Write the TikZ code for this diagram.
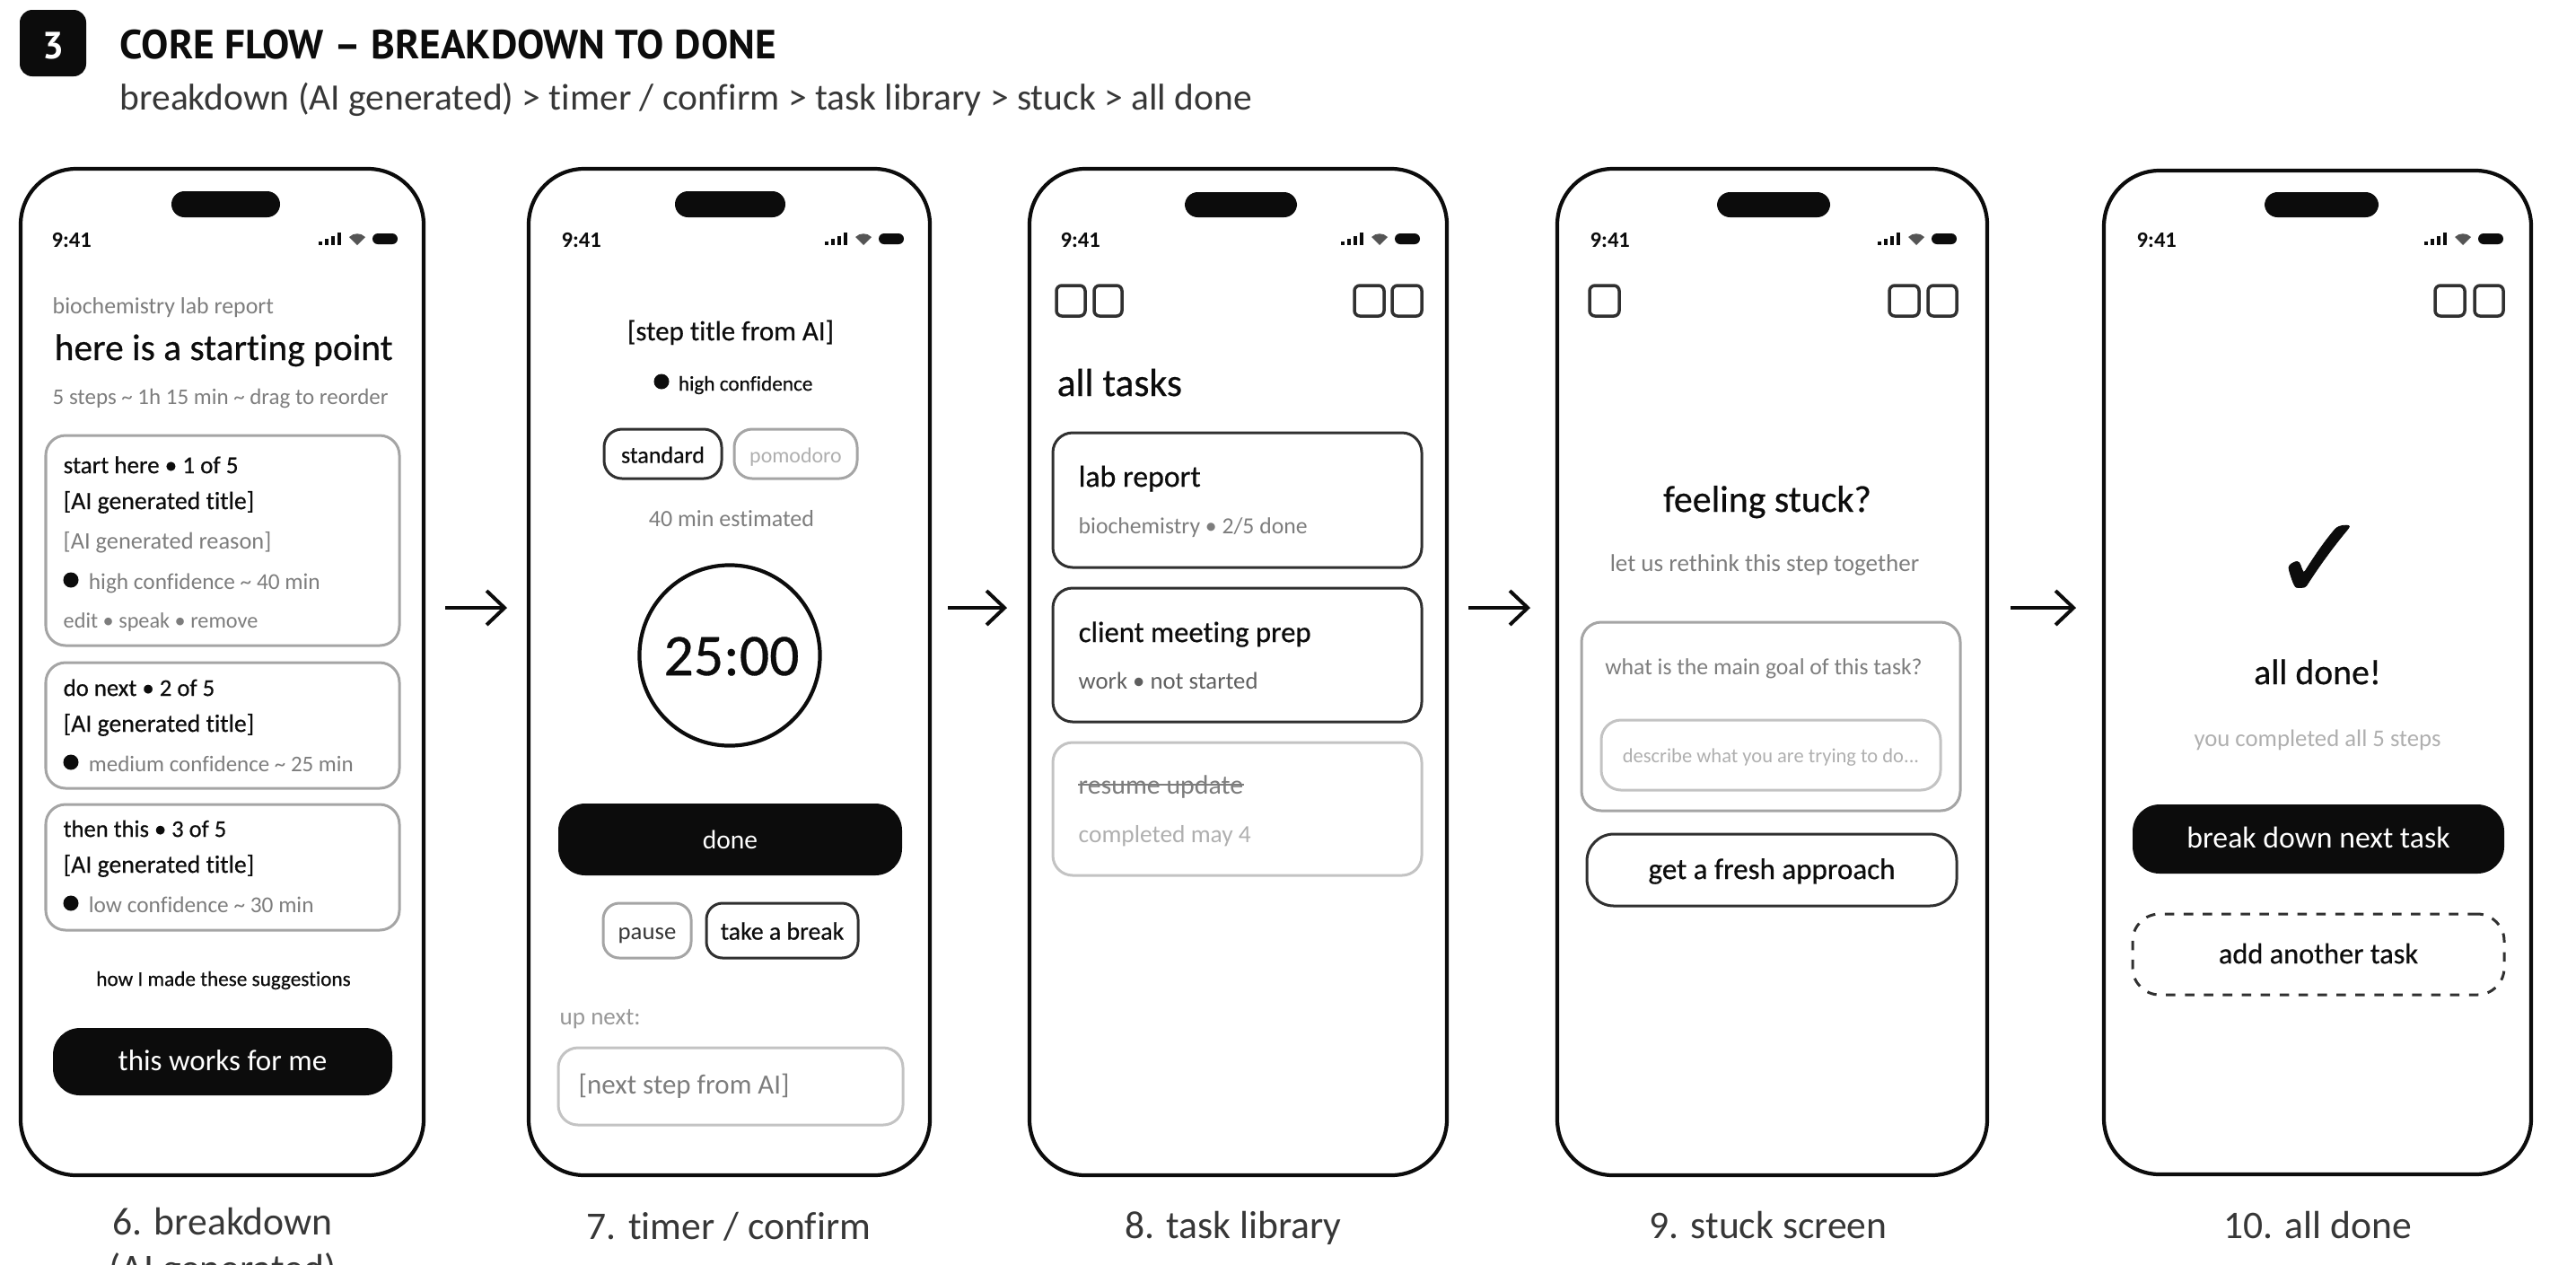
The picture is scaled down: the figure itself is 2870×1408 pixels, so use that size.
\documentclass[tikz,border=0pt]{standalone}
\usepackage{fontspec}
\setmainfont{Carlito}[Ligatures=NoCommon]
\newfontfamily\headfont{PT Sans}
\newfontfamily\medfont{Carlito}[Ligatures=NoCommon,FakeBold=.5]
\newfontfamily\checkfont{DejaVu Sans}[FakeBold=.6]
\usetikzlibrary{positioning,arrows.meta}
\definecolor{InkBlack}{RGB}{12,12,12}
\definecolor{LabelGrey}{RGB}{55,55,55}
\definecolor{SoftGrey}{RGB}{125,125,125}
\definecolor{FaintGrey}{RGB}{175,175,175}
\definecolor{EdgeGrey}{RGB}{165,165,165}
\definecolor{PaleEdge}{RGB}{195,195,195}
\newcommand{\apx}{\textasciitilde}
\tikzset{
  screen style/.style={
    x=.01cm,y=-.01cm,
  },
  span/.style n args={4}{
    at={({(#1+#3)/2},{(#2+#4)/2})},
    minimum width={(#3-#1)*.01cm},
    minimum height={(#4-#2)*.01cm},
    inner sep=0pt,
  },
  phone/.style={
    draw=InkBlack,
    line width=.042cm,
    rounded corners=.62cm,
  },
  notch/.style={
    fill=InkBlack,
    rounded corners=.145cm,
  },
  card/.style={
    draw=EdgeGrey,
    line width=.03cm,
    rounded corners=.22cm,
  },
  dark card/.style={
    card,
    draw=InkBlack!85,
  },
  pale card/.style={
    card,
    draw=PaleEdge,
  },
  button/.style={
    fill=InkBlack,
    text=white,
    rounded corners=.3cm,
  },
  icon box/.style={
    draw=InkBlack!85,
    line width=.035cm,
    rounded corners=.06cm,
  },
  size/.style={
    font=\fontsize{#1pt}{#1pt}\selectfont,
    text height=1.5ex,
    text depth=.3ex,
  },
  ink/.style={
    font=\medfont\fontsize{#1pt}{#1pt}\selectfont,
    text height=1.5ex,
    text depth=.3ex,
    inner sep=0pt,
    text=InkBlack,
  },
  soft/.style={
    size=#1,
    inner sep=0pt,
    text=SoftGrey,
  },
  faint/.style={
    size=#1,
    inner sep=0pt,
    text=FaintGrey,
  },
  caption/.style={
    size=12.4,
    inner sep=0pt,
    text=LabelGrey,
  },
  clock/.style={
    ink=7,
    anchor=west,
    font=\fontsize{7}{7}\selectfont\bfseries,
  },
  conf dot/.style={
    circle,
    fill=InkBlack,
    inner sep=0pt,
    minimum size=.17cm,
  },
  flow/.style={
    draw=InkBlack,
    line width=.04cm,
    -{Straight Barb[length=.2cm,width=.38cm,line width=.04cm]},
  },
  status bar/.pic={
    \fill[InkBlack] (-88,7) rectangle (-84,3);
    \fill[InkBlack] (-81,7) rectangle (-77,0);
    \fill[InkBlack] (-74,7) rectangle (-70,-3);
    \fill[InkBlack] (-67,7) rectangle (-63,-7);
    \fill[InkBlack!70] (-45,7) -- (-54,-2) .. controls (-49,-7) and (-41,-7) .. (-36,-2) -- cycle;
    \fill[InkBlack,rounded corners=.06cm] (-28,-6) rectangle (0,6);
  },
}
\begin{document}
\begin{tikzpicture}[screen style]
  \useasboundingbox (0,0) rectangle (2870,1408);
  \begin{scope}
    \node[notch, fill=InkBlack, rounded corners=.14cm, span={22}{11}{96}{85}, text=white, size=12] (badge) {\raisebox{-2pt}{\headfont\bfseries 3}};
    \node[ink=12.9, anchor=west] (title) at (133,55) {\headfont\bfseries CORE FLOW – BREAKDOWN TO DONE};
    \node[caption, size=11.8, anchor=west] (subtitle) at (133,112) {breakdown (AI generated) > timer / confirm > task library > stuck > all done};
  \end{scope}
  \begin{scope}
    \node[phone, span={23}{188}{472}{1309}] (p6) {};
    \node[notch, span={191}{213}{312}{242}] (p6n) {};
    \node[clock] (p6t) at (57,265) {9:41};
    \pic at (443,266) {status bar};
    \node[soft=7.35, anchor=west] (p6a) at (58,339) {biochemistry lab report};
    \node[ink=11.8, anchor=west] (p6b) at (60,391) {here is a starting point};
    \node[soft=7.1, anchor=west] (p6c) at (58,440) {5 steps \apx{} 1h 15 min \apx{} drag to reorder};
    \node[card, span={51}{485}{445}{719}] (c1) {};
    \node[ink=7.7, anchor=west] (c1a) at (70,517) {start here • 1 of 5};
    \node[ink=7.9, anchor=west] (c1b) at (70,557) {[AI generated title]};
    \node[soft=7.5, anchor=west] (c1c) at (70,601) {[AI generated reason]};
    \node[conf dot] (c1d) at (79,646) {};
    \node[soft=7.2, right=.1cm of c1d] (c1e) {high confidence \apx{} 40 min};
    \node[soft=6.9, anchor=west] (c1f) at (70,689) {edit • speak • remove};
    \node[card, span={51}{738}{445}{878}] (c2) {};
    \node[ink=7.6, anchor=west] (c2a) at (70,765) {do next • 2 of 5};
    \node[ink=7.9, anchor=west] (c2b) at (70,805) {[AI generated title]};
    \node[conf dot] (c2d) at (79,849) {};
    \node[soft=7.1, right=.1cm of c2d] (c2e) {medium confidence \apx{} 25 min};
    \node[card, span={51}{896}{445}{1036}] (c3) {};
    \node[ink=7.55, anchor=west] (c3a) at (70,922) {then this • 3 of 5};
    \node[ink=7.9, anchor=west] (c3b) at (70,962) {[AI generated title]};
    \node[conf dot] (c3d) at (79,1006) {};
    \node[soft=7.2, right=.1cm of c3d] (c3e) {low confidence \apx{} 30 min};
    \node[ink=6.6] (p6h) at (249,1088) {how I made these suggestions};
    \node[button, span={59}{1145}{437}{1220}, size=9.4] (p6o) {this works for me};
    \node[caption, anchor=north, align=center, text height=, text depth=] (p6l) at (248,1344) {6. breakdown\\[2.6pt](AI generated)};
  \end{scope}
  \begin{scope}
    \node[phone, span={589}{188}{1036}{1309}] (p7) {};
    \node[notch, span={752}{213}{875}{242}] (p7n) {};
    \node[clock] (p7t) at (625,265) {9:41};
    \pic at (1007,266) {status bar};
    \node[ink=8.8] (p7a) at (814,369) {[step title from AI]};
    \node[conf dot] (p7d) at (737,425) {};
    \node[ink=6.6, right=.09cm of p7d] (p7e) {high confidence};
    \node[dark card, rounded corners=.2cm, span={673}{478}{804}{533}, ink=7.4] (p7s) {standard};
    \node[card, rounded corners=.2cm, span={818}{478}{955}{533}, faint=6.8] (p7m) {pomodoro};
    \node[soft=7.4] (p7g) at (815,576) {40 min estimated};
    \node[draw=InkBlack, line width=.042cm, circle, inner sep=0pt, minimum size=2.01cm] (p7c) at (813,730) {};
    \node[ink=18.7] (p7v) at (815,742) {25:00};
    \node[button, span={622}{895}{1005}{975}, size=8.4] (p7o) {done};
    \node[card, rounded corners=.18cm, span={672}{1006}{770}{1067}, soft=7.6, text=LabelGrey] (p7p) {pause};
    \node[dark card, rounded corners=.18cm, span={787}{1006}{956}{1067}, ink=7.9] (p7b) {take a break};
    \node[faint=7.7, text=SoftGrey!80, anchor=west] (p7u) at (623,1131) {up next:};
    \node[card, draw=PaleEdge, span={622}{1167}{1006}{1253}] (p7x) {};
    \node[soft=8.8, anchor=west] (p7y) at (644,1208) {[next step from AI]};
    \node[caption] (p7l) at (812,1370) {7. timer / confirm};
  \end{scope}
  \begin{scope}
    \node[phone, span={1147}{188}{1612}{1309}] (p8) {};
    \node[notch, span={1320}{214}{1445}{242}] (p8n) {};
    \node[clock] (p8t) at (1181,265) {9:41};
    \pic at (1582,266) {status bar};
    \node[icon box, span={1177}{318}{1209}{352}] (p8i1) {};
    \node[icon box, span={1219}{318}{1250}{352}] (p8i2) {};
    \node[icon box, span={1509}{318}{1542}{352}] (p8i3) {};
    \node[icon box, span={1551}{318}{1584}{352}] (p8i4) {};
    \node[ink=12.4, anchor=west] (p8a) at (1177,431) {all tasks};
    \node[dark card, span={1173}{482}{1584}{632}] (t1) {};
    \node[ink=9.6, anchor=west] (t1a) at (1201,532) {lab report};
    \node[soft=7.3, anchor=west] (t1b) at (1201,584) {biochemistry • 2/5 done};
    \node[dark card, span={1173}{655}{1584}{804}] (t2) {};
    \node[ink=9.3, anchor=west] (t2a) at (1201,705) {client meeting prep};
    \node[soft=7.6, text=LabelGrey!80, anchor=west] (t2b) at (1201,757) {work • not started};
    \node[pale card, span={1173}{827}{1584}{975}] (t3) {};
    \node[soft=8.5, anchor=west] (t3a) at (1201,874) {resume update};
    \draw[SoftGrey, line width=.025cm] (t3a.west) -- (t3a.east);
    \node[faint=7.8, anchor=west] (t3b) at (1201,928) {completed may 4};
    \node[caption] (p8l) at (1374,1369) {8. task library};
  \end{scope}
  \begin{scope}
    \node[phone, span={1735}{188}{2214}{1309}] (p9) {};
    \node[notch, span={1913}{214}{2039}{242}] (p9n) {};
    \node[clock] (p9t) at (1771,265) {9:41};
    \pic at (2180,266) {status bar};
    \node[icon box, span={1771}{318}{1804}{352}] (p9i1) {};
    \node[icon box, span={2105}{318}{2138}{352}] (p9i2) {};
    \node[icon box, span={2148}{318}{2180}{352}] (p9i3) {};
    \node[ink=11.9] (p9a) at (1969,560) {feeling stuck?};
    \node[soft=7.7] (p9b) at (1966,626) {let us rethink this step together};
    \node[card, span={1762}{693}{2184}{903}] (q1) {};
    \node[soft=7.3] (q1a) at (1965,741) {what is the main goal of this task?};
    \node[card, draw=PaleEdge, span={1784}{802}{2162}{880}] (q2) {};
    \node[faint=6.4] (q2a) at (1973,839) {describe what you are trying to do...};
    \node[dark card, rounded corners=.3cm, span={1768}{929}{2180}{1009}, ink=9.4] (p9o) {get a fresh approach};
    \node[caption] (p9l) at (1970,1369) {9. stuck screen};
  \end{scope}
  \begin{scope}
    \node[phone, span={2344}{190}{2820}{1308}] (p10) {};
    \node[notch, span={2523}{214}{2650}{242}] (p10n) {};
    \node[clock] (p10t) at (2380,265) {9:41};
    \pic at (2789,266) {status bar};
    \node[icon box, span={2713}{318}{2746}{352}] (p10i1) {};
    \node[icon box, span={2757}{318}{2789}{352}] (p10i2) {};
    \node[ink=37] (p10c) at (2585,657) {\checkfont ✓};
    \node[ink=11.3] (p10a) at (2582,752) {all done!};
    \node[faint=7.6] (p10b) at (2582,821) {you completed all 5 steps};
    \node[button, span={2376}{896}{2790}{973}, size=9.6] (p10o) {break down next task};
    \node[dark card, dashed, rounded corners=.3cm, span={2376}{1018}{2790}{1108}, ink=9.2] (p10d) {add another task};
    \node[caption] (p10l) at (2582,1369) {10. all done};
  \end{scope}
  \coordinate (a1) at (496,677);
  \coordinate (b1) at (565,677);
  \coordinate (a2) at (1056,677);
  \coordinate (b2) at (1122,677);
  \coordinate (a3) at (1636,677);
  \coordinate (b3) at (1705,677);
  \coordinate (a4) at (2240,677);
  \coordinate (b4) at (2313,677);
  \draw[flow] (a1) -- (b1);
  \draw[flow] (a2) -- (b2);
  \draw[flow] (a3) -- (b3);
  \draw[flow] (a4) -- (b4);
\end{tikzpicture}
\end{document}
